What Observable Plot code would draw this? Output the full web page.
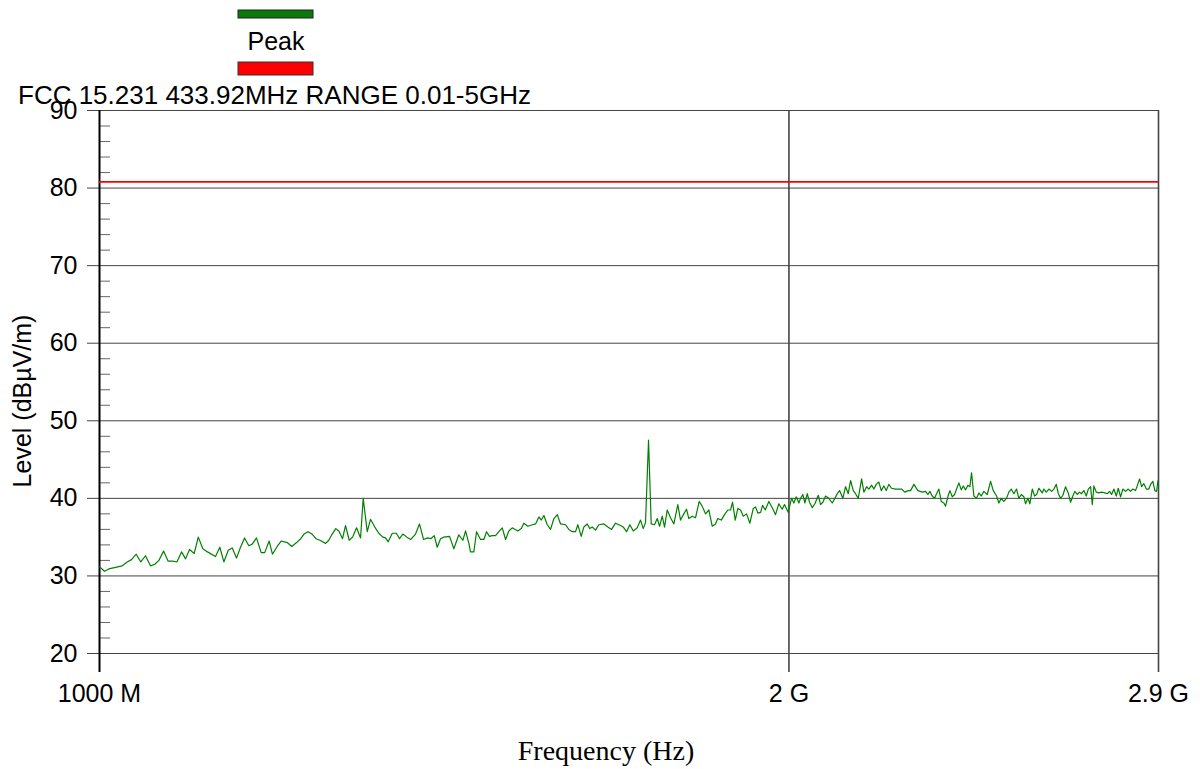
<!DOCTYPE html>
<html>
<head>
<meta charset="utf-8">
<script src="https://cdn.jsdelivr.net/npm/d3@7"></script>
<script src="https://cdn.jsdelivr.net/npm/@observablehq/plot@0.6"></script>
<style>
  html, body { margin: 0; padding: 0; background: #fff; }
  #chart { position: relative; width: 1200px; height: 769px; }
</style>
</head>
<body>
<div id="chart"></div>
<script>
// ---- Data (frequency in MHz, level in dBµV/m) ----
const freqMHz = [
  1000,1005.0,1009.4,1016.2,1023.1,1028.2,1032.7,1037.6,1042.4,1047.3,
  1052.6,1057.2,1061.5,1066.5,1071.5,1076.5,1080.9,1086.0,1090.4,1094.7,
  1099.9,1104.4,1109.5,1114.7,1123.7,1128.6,1133.2,1138.2,1142.8,1147.7,
  1152.3,1157.0,1162.0,1165.9,1171.0,1176.5,1180.7,1186.0,1189.9,1195.6,
  1200.4,1207.7,1213.3,1219.1,1224.2,1228.3,1233.2,1238.2,1243.2,1248.0,
  1255.2,1259.3,1263.0,1268.1,1272.1,1276.8,1280.6,1285.4,1289.7,1294.9,
  1300.1,1303.6,1308.9,1313.2,1318.9,1324.2,1329.6,1333.2,1336.8,1342.3,
  1347.7,1352.1,1356.6,1362.1,1367.5,1374.0,1379.5,1385.1,1390.7,1395.3,
  1400.1,1404.3,1409.0,1413.7,1421.8,1428.0,1435.1,1441.0,1444.9,1449.7,
  1452.1,1457.0,1460.9,1466.8,1471.7,1475.7,1480.1,1484.1,1489.1,1494.1,
  1499.2,1504.2,1509.2,1514.3,1522.9,1528.1,1532.1,1538.3,1545.1,1550.3,
  1555.4,1559.2,1563.3,1568.6,1573.8,1579.1,1584.5,1589.7,1597.7,1603.0,
  1608.5,1613.8,1617.5,1623.1,1627.3,1632.9,1637.2,1641.1,1646.6,1652.1,
  1660.4,1667.1,1673.3,1680.1,1685.6,1693.2,1698.8,1704.4,1710.3,1717.1,
  1722.8,1727.5,1731.5,1736.7,1741.4,1747.2,1752.0,1756.1,1760.8,1764.9,
  1769.6,1775.6,1781.5,1788.6,1793.5,1799.4,1804.3,1808.5,1814.6,1820.7,
  1827.5,1833.0,1839.1,1845.3,1851.6,1857.7,1862.0,1868.4,1874.6,1880.9,
  1886.0,1889.8,1894.9,1899.9,1905.1,1910.3,1916.6,1923.0,1929.6,1934.0,
  1938.5,1943.8,1947.7,1953.0,1960.0,1966.7,1973.2,1979.8,1986.5,1991.1,
  1998.5,2005.3,2009.9,2014.8,2020.1,2023.5,2028.2,2032.3,2037.2,2041.9,
  2047.5,2052.9,2059.9,2064.6,2069.4,2075.0,2081.9,2089.0,2094.5,2099.6,
  2104.5,2111.4,2117.2,2122.9,2127.9,2133.7,2138.6,2144.4,2151.6,2156.6,
  2162.4,2167.4,2173.3,2178.3,2183.5,2189.3,2194.5,2200.3,2205.6,2211.3,
  2217.3,2226.3,2233.7,2239.8,2247.3,2255.0,2260.2,2267.7,2276.8,2286.9,
  2294.5,2299.8,2304.5,2310.0,2315.4,2320.0,2325.4,2331.0,2337.1,2341.1,
  2346.5,2351.3,2357.0,2362.4,2367.2,2372.7,2378.4,2383.2,2388.8,2394.3,
  2399.0,2403.1,2408.7,2415.2,2420.8,2426.6,2433.0,2441.3,2449.5,2456.1,
  2464.3,2470.0,2475.9,2482.4,2489.1,2494.9,2500.9,2507.5,2514.3,2520.1,
  2526.3,2532.9,2537.2,2543.1,2548.2,2554.4,2560.3,2565.5,2571.4,2580.2,
  2584.4,2590.6,2597.4,2604.5,2610.5,2616.8,2622.1,2628.1,2634.2,2641.3,
  2648.5,2654.6,2660.7,2666.1,2672.5,2678.8,2684.2,2690.4,2696.9,2702.4,
  2708.6,2713.3,2717.6,2724.2,2731.3,2738.8,2747.9,2754.5,2760.9,2766.4,
  2772.8,2779.5,2785.1,2791.5,2797.9,2805.5,2813.1,2819.5,2826.1,2833.7,
  2839.4,2845.4,2851.1,2857.7,2864.6,2872.1,2877.0,2883.6,2889.4,2894.4,2898.6
];
const peakLevel = [
  31.2,30.6,30.9,31.1,31.3,31.8,32.1,32.8,31.8,32.6,
  31.3,31.5,32.0,33.2,31.9,31.9,31.8,33.1,32.2,33.4,
  32.9,35.0,33.5,33.1,32.5,33.7,31.8,33.3,33.6,32.3,
  33.7,34.9,33.9,34.1,34.9,33.0,33.0,34.5,32.8,33.8,
  34.5,34.3,33.8,34.3,34.8,35.4,35.7,35.4,34.8,34.6,
  34.2,34.6,35.3,36.1,35.8,34.8,36.5,34.6,35.0,36.2,
  34.9,40.0,35.7,37.3,36.3,35.5,35.0,34.9,34.4,35.5,
  35.5,34.8,35.4,35.0,34.7,35.4,36.7,34.7,34.9,34.8,
  35.2,33.7,34.8,35.0,35.1,33.5,35.3,34.6,35.8,34.2,
  33.1,33.1,35.7,34.7,34.7,35.7,35.1,35.2,35.2,35.7,
  36.2,34.7,35.8,36.2,35.8,36.1,36.8,36.4,36.6,36.7,
  37.6,37.2,37.8,36.6,36.0,37.4,37.9,36.7,36.6,36.0,
  35.7,35.7,36.6,35.1,36.3,36.7,36.1,36.3,35.9,36.6,
  36.7,36.3,36.0,36.8,36.6,36.3,35.7,36.6,35.8,36.2,
  37.2,36.1,36.9,47.5,36.7,36.6,37.4,36.4,37.7,36.3,
  38.5,37.5,36.7,39.2,37.2,38.0,38.6,37.4,37.7,37.5,
  39.6,39.0,38.0,38.5,36.4,36.7,37.4,37.2,37.9,38.5,
  38.5,39.5,37.2,38.7,38.5,37.7,38.0,36.8,38.7,38.9,
  38.1,38.2,39.1,38.5,39.6,38.8,37.9,39.3,38.6,39.2,
  38.2,40.0,39.4,40.2,39.4,40.0,40.5,39.4,40.6,39.5,
  38.8,39.3,40.4,39.2,39.5,40.3,40.0,39.4,40.0,40.6,
  41.0,40.0,41.5,40.6,42.3,41.0,40.6,40.0,42.5,40.8,
  41.5,41.2,41.7,41.2,41.8,42.1,41.0,41.6,41.0,41.8,
  41.3,41.2,41.2,41.2,40.8,41.0,41.0,41.8,41.0,40.8,
  40.9,40.5,40.9,40.3,40.0,40.6,41.2,39.6,39.4,39.0,
  40.2,41.0,40.2,40.5,41.2,42.0,41.1,41.6,41.1,41.7,
  41.5,43.3,40.3,40.0,40.7,40.3,40.9,40.5,42.2,41.0,
  40.3,39.4,40.0,39.6,40.0,40.8,41.2,40.6,41.2,40.0,
  40.5,40.2,39.3,40.0,39.3,41.2,40.3,40.5,41.3,40.7,
  41.2,40.8,41.2,40.9,41.2,41.8,40.6,40.0,40.4,41.5,
  40.7,39.5,40.3,40.9,40.5,40.8,40.6,41.0,40.3,41.2,
  41.5,39.2,41.6,40.8,40.7,40.8,40.7,40.6,40.9,40.5,
  41.2,40.3,41.3,40.2,41.2,40.9,41.2,40.9,41.2,41.0,
  41.7,42.5,41.5,41.9,41.2,41.2,41.8,42.2,41.0,40.9,42.3
];
const limitLevel = 80.8;               // FCC 15.231 limit line
const xTicks = [1000, 2000, 2900];
const xTickLabels = ["1000 M", "2 G", "2.9 G"];
const yTicks = [20, 30, 40, 50, 60, 70, 80, 90];
const yMinorTicks = d3.range(22, 90, 2).filter(v => v % 10 !== 0);
const xDomain = [1000, 2900];
const yDomain = [20, 90];
const titleText = "FCC 15.231 433.92MHz RANGE 0.01-5GHz";
const legendLabel = "Peak";
const yLabel = "Level (dBµV/m)";
const xLabel = "Frequency (Hz)";

const trace = freqMHz.map((f, i) => ({f, v: peakLevel[i]})).filter(d => d.v != null);

const W = 1200, H = 769;
const mL = 99, mR = 42, mT = 110, mB = 116;
const frameW = W - mL - mR;

const chart = Plot.plot({
  width: W,
  height: H,
  marginLeft: mL,
  marginRight: mR,
  marginTop: mT,
  marginBottom: mB,
  style: {
    fontFamily: "'Liberation Sans', Arial, sans-serif",
    fontSize: "25px",
    background: "#fff",
    color: "#000",
    overflow: "visible"
  },
  x: {type: "log", domain: xDomain},
  y: {domain: yDomain},
  marks: [
    Plot.ruleY(yTicks, {stroke: "#444", strokeWidth: 1, insetLeft: -12}),
    Plot.ruleY(yMinorTicks, {stroke: "#666", strokeWidth: 1, insetRight: frameW - 11}),
    Plot.ruleX(xTicks.slice(1), {stroke: "#444", strokeWidth: 1.6, insetBottom: -19}),
    Plot.ruleX([xTicks[0]], {stroke: "#000", strokeWidth: 2, insetBottom: -19}),
    Plot.axisY({ticks: yTicks, tickSize: 0, tickPadding: 22, label: null, fontSize: 25}),
    Plot.axisX({ticks: xTicks, tickSize: 0, tickPadding: 31, label: null, fontSize: 25,
      tickFormat: d => xTickLabels[xTicks.indexOf(d)]}),
    Plot.ruleY([limitLevel], {stroke: "#ff0000", strokeWidth: 1.6}),
    Plot.line(trace, {x: "f", y: "v", stroke: "#008000", strokeWidth: 1.2})
  ]
});

document.getElementById("chart").appendChild(chart);

// Title, legend and axis titles
const svg = d3.select(chart);
const font = "'Liberation Sans', Arial, sans-serif";
svg.append("text")
  .attr("x", 18).attr("y", 104).attr("text-anchor", "start")
  .attr("font-family", font).attr("font-size", 26).attr("fill", "#000")
  .text(titleText);
svg.append("rect")
  .attr("x", 238).attr("y", 10).attr("width", 75).attr("height", 8)
  .attr("fill", "#0a7a0a").attr("stroke", "#222").attr("stroke-width", 1);
svg.append("text")
  .attr("x", 276).attr("y", 50).attr("text-anchor", "middle")
  .attr("font-family", font).attr("font-size", 25).attr("fill", "#000")
  .text(legendLabel);
svg.append("rect")
  .attr("x", 238).attr("y", 62).attr("width", 75).attr("height", 13)
  .attr("fill", "#ff0000").attr("stroke", "#333").attr("stroke-width", 1);
svg.append("text")
  .attr("transform", "translate(31,401) rotate(-90)")
  .attr("text-anchor", "middle")
  .attr("font-family", font).attr("font-size", 25).attr("fill", "#000")
  .text(yLabel);
svg.append("text")
  .attr("x", 606).attr("y", 760).attr("text-anchor", "middle")
  .attr("font-family", "'Liberation Serif', 'Times New Roman', serif")
  .attr("font-size", 28).attr("fill", "#000")
  .text(xLabel);
</script>
</body>
</html>
